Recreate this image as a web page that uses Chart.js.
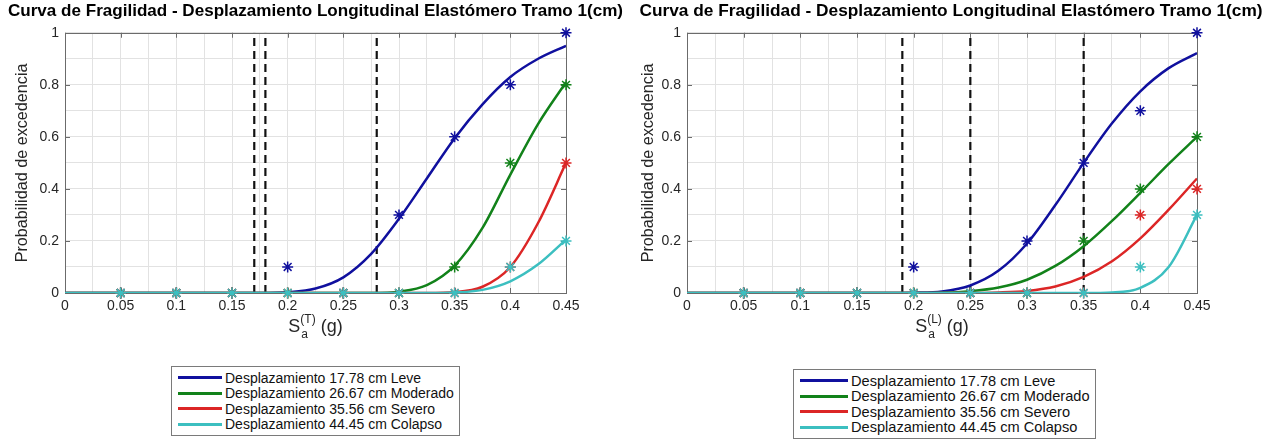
<!DOCTYPE html>
<html>
<head>
<meta charset="utf-8">
<title>Curva de Fragilidad</title>
<script src="https://cdn.jsdelivr.net/npm/chart.js@4.4.1/dist/chart.umd.min.js"></script>
<style>
  body { margin: 0; background: #fff; font-family: "Liberation Sans", Arial, sans-serif; }
  #wrap { position: relative; width: 1268px; height: 440px; overflow: hidden; background: #fff; }
  canvas { position: absolute; top: 0; }
  .legend { position: absolute; border: 1px solid #7a7a7a; background: #fff; padding: 3px 5px 3px 6px; color: #111; }
  .legend .row { display: flex; align-items: center; height: 15.5px; white-space: nowrap; }
  .legend .sw { display: inline-block; height: 3px; margin-right: 3px; }
  #legendT { font-size: 14px; }
  #legendT .sw { width: 44px; }
  #legendL { font-size: 14.6px; }
  #legendL .sw { width: 48px; }
</style>
</head>
<body>
<div id="wrap">
  <canvas id="chartT" width="634" height="345" style="left:0"></canvas>
  <canvas id="chartL" width="634" height="345" style="left:634px"></canvas>
  <div class="legend" id="legendT" style="left:171px; top:366px"></div>
  <div class="legend" id="legendL" style="left:793px; top:369px"></div>
</div>
<script>
// ---------- Data ----------
const chartTitle = 'Curva de Fragilidad - Desplazamiento Longitudinal Elastómero Tramo 1(cm)';
const yTitle = 'Probabilidad de excedencia';
const xTickVals = [0, 0.05, 0.1, 0.15, 0.2, 0.25, 0.3, 0.35, 0.4, 0.45];
const yTickVals = [0, 0.2, 0.4, 0.6, 0.8, 1];

const stateLabels = [
  'Desplazamiento 17.78 cm Leve',
  'Desplazamiento 26.67 cm Moderado',
  'Desplazamiento 35.56 cm Severo',
  'Desplazamiento 44.45 cm Colapso'
];
const stateColors = ['#10109e', '#12821a', '#dc2626', '#3cbfc0'];

// Sa values where exceedance was counted
const xObs = [0.05, 0.1, 0.15, 0.2, 0.25, 0.3, 0.35, 0.4, 0.45];
const xFit = [0, 0.025, 0.05, 0.075, 0.1, 0.125, 0.15, 0.175, 0.2, 0.225,
              0.25, 0.275, 0.3, 0.325, 0.35, 0.375, 0.4, 0.425, 0.45];

// Transversal (T) plot
const tLeveObs = [0, 0, 0, 0.1, 0, 0.3, 0.6, 0.8, 1];
const tModObs  = [0, 0, 0, 0, 0, 0, 0.1, 0.5, 0.8];
const tSevObs  = [0, 0, 0, 0, 0, 0, 0, 0.1, 0.5];
const tColObs  = [0, 0, 0, 0, 0, 0, 0, 0.1, 0.2];
const tLeveFit = [0, 0, 0, 0, 0, 0, 0, 0, 0.003, 0.017, 0.06, 0.15, 0.285, 0.44, 0.595, 0.725, 0.83, 0.9, 0.95];
const tModFit  = [0, 0, 0, 0, 0, 0, 0, 0, 0, 0, 0, 0, 0.005, 0.03, 0.105, 0.25, 0.455, 0.65, 0.81];
const tSevFit  = [0, 0, 0, 0, 0, 0, 0, 0, 0, 0, 0, 0, 0, 0, 0.003, 0.024, 0.1, 0.27, 0.5];
const tColFit  = [0, 0, 0, 0, 0, 0, 0, 0, 0, 0, 0, 0, 0, 0, 0.002, 0.012, 0.045, 0.11, 0.205];
const tLimits  = [0.17, 0.18, 0.28];

// Longitudinal (L) plot
const lLeveObs = [0, 0, 0, 0.1, 0, 0.2, 0.5, 0.7, 1];
const lModObs  = [0, 0, 0, 0, 0, 0, 0.2, 0.4, 0.6];
const lSevObs  = [0, 0, 0, 0, 0, 0, 0, 0.3, 0.4];
const lColObs  = [0, 0, 0, 0, 0, 0, 0, 0.1, 0.3];
const lLeveFit = [0, 0, 0, 0, 0, 0, 0, 0, 0.001, 0.006, 0.029, 0.086, 0.19, 0.338, 0.5, 0.652, 0.775, 0.864, 0.922];
const lModFit  = [0, 0, 0, 0, 0, 0, 0, 0, 0, 0.001, 0.007, 0.021, 0.051, 0.104, 0.18, 0.277, 0.385, 0.496, 0.6];
const lSevFit  = [0, 0, 0, 0, 0, 0, 0, 0, 0, 0, 0, 0.002, 0.008, 0.025, 0.062, 0.122, 0.21, 0.32, 0.44];
const lColFit  = [0, 0, 0, 0, 0, 0, 0, 0, 0, 0, 0, 0, 0, 0, 0, 0.002, 0.02, 0.1, 0.3];
const lLimits  = [0.19, 0.25, 0.35];

const FONT = '"Liberation Sans", Arial, sans-serif';

// ---------- Plugins ----------
// axes box with inward tick marks (MATLAB style)
const boxPlugin = {
  id: 'box',
  beforeDatasetsDraw(chart) {
    const { ctx, chartArea: a, scales } = chart;
    ctx.save();
    ctx.strokeStyle = '#6b6b6b';
    ctx.lineWidth = 1;
    ctx.beginPath();
    xTickVals.forEach(v => {
      const px = Math.round(scales.x.getPixelForValue(v)) + 0.5;
      ctx.moveTo(px, a.bottom); ctx.lineTo(px, a.bottom - 5);
      ctx.moveTo(px, a.top); ctx.lineTo(px, a.top + 5);
    });
    yTickVals.forEach(v => {
      const py = Math.round(scales.y.getPixelForValue(v)) + 0.5;
      ctx.moveTo(a.left, py); ctx.lineTo(a.left + 5, py);
      ctx.moveTo(a.right, py); ctx.lineTo(a.right - 5, py);
    });
    ctx.stroke();
    ctx.strokeRect(Math.round(a.left) + 0.5, Math.round(a.top) + 0.5,
                   Math.round(a.right - a.left), Math.round(a.bottom - a.top));
    ctx.restore();
  }
};

// x-axis label S_a^(T) (g)
const saLabelPlugin = {
  id: 'saLabel',
  afterDraw(chart, args, opts) {
    const { ctx, chartArea: a } = chart;
    const cx = (a.left + a.right) / 2;
    const y = a.bottom + 34;
    ctx.save();
    ctx.fillStyle = '#262626';
    ctx.textBaseline = 'middle';
    ctx.textAlign = 'left';
    ctx.font = '18px ' + FONT;
    const wS = ctx.measureText('S').width;
    const wG = ctx.measureText(' (g)').width;
    ctx.font = '12px ' + FONT;
    const wSup = ctx.measureText(opts.sup).width;
    let x = cx - (wS + wSup + wG) / 2;
    ctx.font = '18px ' + FONT;
    ctx.fillText('S', x, y);
    x += wS;
    ctx.font = '12px ' + FONT;
    ctx.fillText(opts.sup, x, y - 7);
    ctx.fillText('a', x + 1, y + 8);
    x += wSup;
    ctx.font = '18px ' + FONT;
    ctx.fillText(' (g)', x, y);
    ctx.restore();
  }
};

// ---------- Build ----------
function buildDatasets(fits, obs, limits) {
  const ds = [];
  limits.forEach(v => ds.push({
    data: [{ x: v, y: 0 }, { x: v, y: 1 }],
    showLine: true, borderColor: '#111', borderWidth: 2.2, borderDash: [8, 5],
    pointRadius: 0, order: 20
  }));
  fits.forEach((f, i) => ds.push({
    label: stateLabels[i],
    data: xFit.map((x, k) => ({ x, y: f[k] })),
    showLine: true, borderColor: stateColors[i], borderWidth: 2.5,
    cubicInterpolationMode: 'monotone', pointRadius: 0, order: 10 - 2 * i
  }));
  obs.forEach((o, i) => ds.push({
    data: xObs.map((x, k) => ({ x, y: o[k] })),
    showLine: false, pointStyle: 'star', pointRadius: 5.5, borderWidth: 1.5,
    borderColor: stateColors[i], backgroundColor: stateColors[i],
    clip: false, order: 9 - 2 * i
  }));
  return ds;
}

function makeChart(id, datasets, sup, pad, yWidth, rightWidth, yTitlePad) {
  const fixWidth = w => scale => { scale.width = w; };
  return new Chart(document.getElementById(id), {
    type: 'scatter',
    data: { datasets },
    plugins: [boxPlugin, saLabelPlugin],
    options: {
      responsive: false,
      animation: false,
      layout: { padding: { left: pad.left, right: pad.right, top: 1, bottom: 0 } },
      plugins: {
        legend: { display: false },
        tooltip: { enabled: false },
        title: {
          display: true, text: chartTitle, color: '#000',
          font: { family: FONT, size: 17.3, weight: 'bold' },
          padding: { top: 0, bottom: 11 }
        },
        saLabel: { sup }
      },
      scales: {
        x: {
          type: 'linear', min: 0, max: 0.45,
          afterFit: scale => { scale.height = 52; },
          border: { display: false },
          grid: { color: '#e2e2e2', drawTicks: false },
          ticks: {
            stepSize: 0.025, autoSkip: false, maxRotation: 0, padding: 5,
            color: '#262626', font: { family: FONT, size: 14 },
            callback: v => {
              const m = Math.round(v * 1000);
              return m % 50 === 0 ? String(m / 1000) : '';
            }
          }
        },
        y: {
          type: 'linear', min: 0, max: 1,
          afterFit: fixWidth(yWidth),
          border: { display: false },
          grid: { color: '#e2e2e2', drawTicks: false },
          ticks: {
            stepSize: 0.1, padding: 6,
            color: '#262626', font: { family: FONT, size: 14 },
            callback: v => {
              const m = Math.round(v * 10);
              return m % 2 === 0 ? String(m / 10) : '';
            }
          },
          title: {
            display: true, text: yTitle, color: '#262626',
            font: { family: FONT, size: 16.2 },
            padding: { top: yTitlePad, bottom: 0 }
          }
        },
        yR: {
          type: 'linear', position: 'right', min: 0, max: 1,
          afterFit: fixWidth(rightWidth),
          border: { display: false },
          grid: { display: false },
          ticks: { display: false }
        }
      }
    }
  });
}

makeChart('chartT',
  buildDatasets([tLeveFit, tModFit, tSevFit, tColFit], [tLeveObs, tModObs, tSevObs, tColObs], tLimits),
  '(T)', { left: 8, right: 11 }, 57, 57, 5);

makeChart('chartL',
  buildDatasets([lLeveFit, lModFit, lSevFit, lColFit], [lLeveObs, lModObs, lSevObs, lColObs], lLimits),
  '(L)', { left: 4, right: 4 }, 49, 67, 1);

// ---------- Legends ----------
function renderLegend(id) {
  const box = document.getElementById(id);
  box.innerHTML = stateLabels.map((label, i) =>
    `<div class="row"><span class="sw" style="background:${stateColors[i]}"></span>${label}</div>`
  ).join('');
}
renderLegend('legendT');
renderLegend('legendL');
</script>
</body>
</html>
